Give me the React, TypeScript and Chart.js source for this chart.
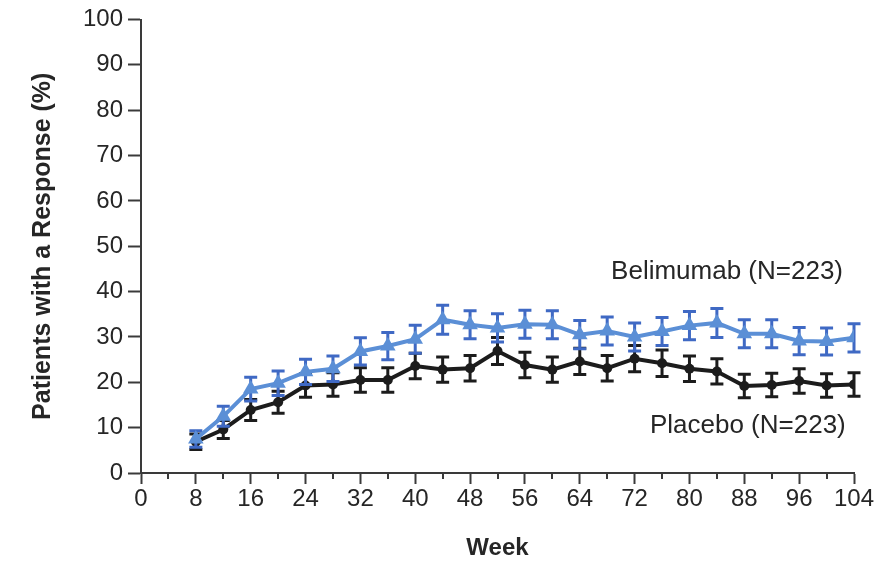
import { useEffect, useRef } from 'react';
import { Chart, registerables } from 'chart.js';

Chart.register(...registerables);

// Study weeks at which response was assessed
const weeks = [8, 12, 16, 20, 24, 28, 32, 36, 40, 44, 48, 52, 56, 60, 64, 68, 72, 76, 80, 84, 88, 92, 96, 100, 104];

// Percentage of patients with a response
const belimumab = [7.5, 12.5, 18.5, 19.8, 22.3, 23.0, 26.8, 28.0, 29.5, 33.8, 32.7, 32.0, 32.8, 32.7, 30.5, 31.3, 30.0, 31.2, 32.5, 33.1, 30.7, 30.7, 29.1, 29.0, 29.8];
const placebo = [6.9, 9.6, 13.9, 15.6, 19.3, 19.5, 20.5, 20.5, 23.6, 22.8, 23.1, 26.9, 23.8, 22.8, 24.6, 23.1, 25.2, 24.2, 23.0, 22.4, 19.2, 19.4, 20.3, 19.3, 19.5];

// Standard errors (± percentage points)
const belimumabErr = [1.8, 2.2, 2.6, 2.7, 2.8, 2.8, 3.0, 3.0, 3.1, 3.2, 3.1, 3.1, 3.1, 3.1, 3.1, 3.1, 3.1, 3.1, 3.1, 3.2, 3.1, 3.1, 3.0, 3.0, 3.1];
const placeboErr = [1.7, 2.0, 2.3, 2.4, 2.6, 2.6, 2.7, 2.7, 2.8, 2.8, 2.8, 3.0, 2.8, 2.8, 2.9, 2.8, 2.9, 2.9, 2.8, 2.8, 2.6, 2.6, 2.7, 2.6, 2.6];

const seriesLabels = ['Belimumab (N=223)', 'Placebo (N=223)'];
// Where each series label sits, in data units (week, percent)
const labelAnchors = [
  { x: 102.4, y: 44.3 },
  { x: 102.8, y: 10.3 },
];

const xTitle = 'Week';
const yTitle = 'Patients with a Response (%)';

const FONT = '"Liberation Sans", Arial, sans-serif';
const TEXT = '#262626';
const AXIS = '#3a3a3a';
const BLUE = '#5b8fd6';
const BLUE_DARK = '#3f69c4';
const BLACK = '#1c1c1c';

const errorBarPlugin = {
  id: 'errorBars',
  beforeDatasetDraw(chart: any, args: any) {
    const ds = chart.data.datasets[args.index];
    const errs: number[] = ds.errors;
    if (!errs) return;
    const yScale = chart.scales.y;
    const ctx = chart.ctx;
    ctx.save();
    ctx.strokeStyle = ds.errorColor;
    ctx.lineWidth = 3;
    ctx.lineCap = 'butt';
    args.meta.data.forEach((pt: any, i: number) => {
      const v = ds.data[i].y;
      const top = yScale.getPixelForValue(v + errs[i]);
      const bot = yScale.getPixelForValue(v - errs[i]);
      const cx = pt.x;
      const cap = 6.5;
      ctx.beginPath();
      ctx.moveTo(cx, top);
      ctx.lineTo(cx, bot);
      ctx.moveTo(cx - cap, top);
      ctx.lineTo(cx + cap, top);
      ctx.moveTo(cx - cap, bot);
      ctx.lineTo(cx + cap, bot);
      ctx.stroke();
    });
    ctx.restore();
  },
};

const decorPlugin = {
  id: 'decor',
  afterDraw(chart: any) {
    const ctx = chart.ctx;
    const xs = chart.scales.x;
    const ys = chart.scales.y;
    const base = chart.chartArea.bottom;
    // minor x ticks between labelled weeks
    ctx.save();
    ctx.strokeStyle = AXIS;
    ctx.lineWidth = 2;
    for (let w = 4; w < 104; w += 8) {
      const px = Math.round(xs.getPixelForValue(w));
      ctx.beginPath();
      ctx.moveTo(px, base);
      ctx.lineTo(px, base + 6);
      ctx.stroke();
    }
    // series labels
    ctx.fillStyle = TEXT;
    ctx.font = `26px ${FONT}`;
    ctx.textAlign = 'right';
    ctx.textBaseline = 'middle';
    seriesLabels.forEach((t, i) => {
      ctx.fillText(t, xs.getPixelForValue(labelAnchors[i].x), ys.getPixelForValue(labelAnchors[i].y));
    });
    ctx.restore();
  },
};

export default function App() {
  const ref = useRef<HTMLCanvasElement>(null);

  useEffect(() => {
    const canvas = ref.current;
    if (!canvas) return;
    Chart.defaults.font.family = FONT;
    const chart = new Chart(canvas, {
      type: 'line',
      data: {
        datasets: [
          {
            label: seriesLabels[0],
            data: weeks.map((w, i) => ({ x: w, y: belimumab[i] })),
            borderColor: BLUE,
            backgroundColor: BLUE,
            borderWidth: 4,
            pointStyle: 'triangle',
            pointRadius: 9,
            pointBorderWidth: 0,
            tension: 0,
            errors: belimumabErr,
            errorColor: BLUE_DARK,
          } as any,
          {
            label: seriesLabels[1],
            data: weeks.map((w, i) => ({ x: w, y: placebo[i] })),
            borderColor: BLACK,
            backgroundColor: BLACK,
            borderWidth: 4,
            pointStyle: 'circle',
            pointRadius: 5,
            pointBorderWidth: 0,
            tension: 0,
            errors: placeboErr,
            errorColor: BLACK,
          } as any,
        ],
      },
      options: {
        responsive: false,
        animation: false,
        layout: { padding: { top: 19.5, right: 30, left: 0, bottom: 0 } },
        plugins: {
          legend: { display: false },
          tooltip: { enabled: false },
        },
        scales: {
          x: {
            type: 'linear',
            min: 0,
            max: 104,
            afterFit: (s: any) => {
              s.height = 90;
            },
            afterBuildTicks: (s: any) => {
              const t = [];
              for (let v = 0; v <= 104; v += 8) t.push({ value: v });
              s.ticks = t;
            },
            ticks: {
              autoSkip: false,
              maxRotation: 0,
              color: TEXT,
              font: { size: 24 },
              padding: 1,
            },
            grid: {
              drawOnChartArea: false,
              drawTicks: true,
              tickLength: 11,
              tickColor: AXIS,
              tickWidth: 2,
            },
            border: { display: true, color: AXIS, width: 2 },
            title: {
              display: true,
              text: xTitle,
              color: TEXT,
              font: { size: 24, weight: 'bold' },
              padding: { top: 0, bottom: 0 },
            },
          },
          y: {
            min: 0,
            max: 100,
            afterFit: (s: any) => {
              s.width = 141;
            },
            ticks: {
              stepSize: 10,
              color: TEXT,
              font: { size: 24 },
              padding: 5,
            },
            grid: {
              drawOnChartArea: false,
              drawTicks: true,
              tickLength: 13,
              tickColor: AXIS,
              tickWidth: 2,
            },
            border: { display: true, color: AXIS, width: 2 },
            title: {
              display: true,
              text: yTitle,
              color: TEXT,
              font: { size: 25, weight: 'bold' },
              padding: { top: 28, bottom: 0 },
            },
          },
        },
      },
      plugins: [errorBarPlugin, decorPlugin],
    });
    return () => chart.destroy();
  }, []);

  return (
    <div style={{ position: 'absolute', left: 0, top: 0, width: 884, height: 563, background: '#fff' }}>
      <canvas ref={ref} width={884} height={563} style={{ display: 'block' }} />
    </div>
  );
}
